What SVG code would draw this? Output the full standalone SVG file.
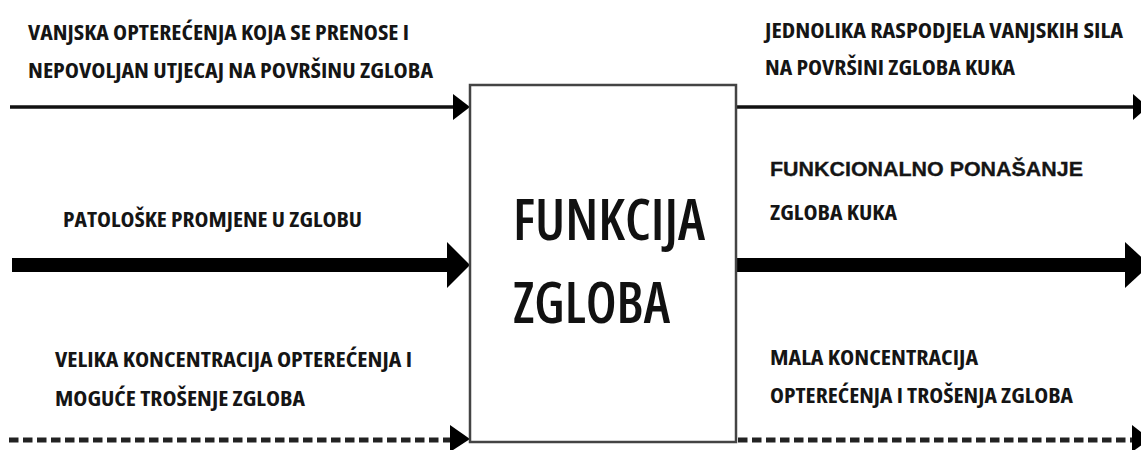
<svg xmlns="http://www.w3.org/2000/svg" width="1141" height="450" viewBox="0 0 1141 450">
<style>
.lbl{font-family:"Open Sans","Noto Sans","Liberation Sans",sans-serif;font-stretch:75%;font-weight:bold;font-size:21px;fill:#151515}
.arial{font-family:"Liberation Sans","Noto Sans",sans-serif;font-weight:bold;font-size:20px;fill:#151515;stroke:#151515;stroke-width:0.3}
.big{font-family:"Open Sans","Noto Sans","Liberation Sans",sans-serif;font-stretch:75%;font-weight:600;font-size:58px;fill:#111}
.thin{stroke:#111;stroke-width:3.5;fill:none}
.thick{stroke:#000;stroke-width:14;fill:none}
.dash{stroke:#222;stroke-width:5;stroke-dasharray:9.5 4.5;fill:none}
.head{fill:#000}
</style>
<rect width="1141" height="450" fill="#fff"/>
<g id="connectors">
<line class="thin" x1="10" y1="107" x2="456" y2="107"/>
<polygon class="head" points="453,94 470,107 453,120"/>
<line class="thin" x1="736" y1="107" x2="1136" y2="107"/>
<polygon class="head" points="1133,94 1148,107 1133,120"/>
<line class="thick" x1="12" y1="265" x2="450" y2="265"/>
<polygon class="head" points="447,242 470,265 447,288"/>
<line class="thick" x1="736" y1="265" x2="1128" y2="265"/>
<polygon class="head" points="1125,242 1150,265 1125,288"/>
<line class="dash" x1="9" y1="440" x2="452" y2="440"/>
<polygon class="head" points="450,425 470,439 450,452"/>
<line class="dash" x1="738" y1="440" x2="1133" y2="440"/>
<polygon class="head" points="1132,425 1150,439 1132,452"/>
</g>
<g id="node-funkcija">
<rect x="470" y="85" width="266" height="357" fill="#fff" stroke="#444" stroke-width="2.5"/>
<text class="big" x="513" y="240" textLength="192" lengthAdjust="spacingAndGlyphs">FUNKCIJA</text>
<text class="big" x="513" y="323" textLength="157" lengthAdjust="spacingAndGlyphs">ZGLOBA</text>
</g>
<g id="label-in-top">
<text class="lbl" x="28" y="40" textLength="381" lengthAdjust="spacingAndGlyphs">VANJSKA OPTEREĆENJA KOJA SE PRENOSE I</text>
<text class="lbl" x="28" y="78" textLength="405" lengthAdjust="spacingAndGlyphs">NEPOVOLJAN UTJECAJ NA POVRŠINU ZGLOBA</text>
</g>
<g id="label-in-mid">
<text class="lbl" x="63" y="227" textLength="299" lengthAdjust="spacingAndGlyphs">PATOLOŠKE PROMJENE U ZGLOBU</text>
</g>
<g id="label-in-bottom">
<text class="lbl" x="55" y="367" textLength="357" lengthAdjust="spacingAndGlyphs">VELIKA KONCENTRACIJA OPTEREĆENJA I</text>
<text class="lbl" x="55" y="406" textLength="250" lengthAdjust="spacingAndGlyphs">MOGUĆE TROŠENJE ZGLOBA</text>
</g>
<g id="label-out-top">
<text class="lbl" x="765" y="38" textLength="358" lengthAdjust="spacingAndGlyphs">JEDNOLIKA RASPODJELA VANJSKIH SILA</text>
<text class="lbl" x="765" y="75" textLength="250" lengthAdjust="spacingAndGlyphs">NA POVRŠINI ZGLOBA KUKA</text>
</g>
<g id="label-out-mid">
<text class="arial" x="770" y="176" textLength="313" lengthAdjust="spacingAndGlyphs">FUNKCIONALNO PONAŠANJE</text>
<text class="lbl" x="770" y="220" textLength="127" lengthAdjust="spacingAndGlyphs">ZGLOBA KUKA</text>
</g>
<g id="label-out-bottom">
<text class="lbl" x="770" y="365" textLength="208" lengthAdjust="spacingAndGlyphs">MALA KONCENTRACIJA</text>
<text class="lbl" x="770" y="403" textLength="303" lengthAdjust="spacingAndGlyphs">OPTEREĆENJA I TROŠENJA ZGLOBA</text>
</g>
</svg>
